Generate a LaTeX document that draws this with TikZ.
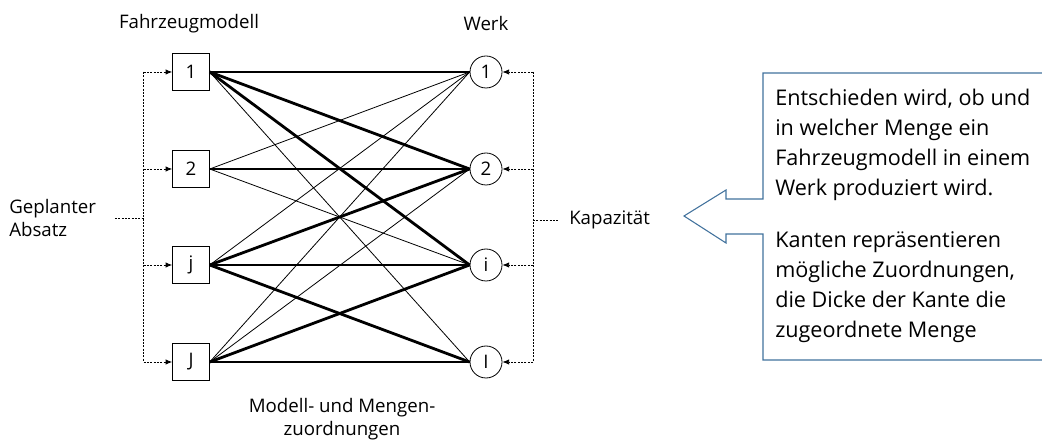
\documentclass[tikz,border=0pt]{standalone}
\usepackage{fontspec}
\setmainfont{Open Sans}
\usetikzlibrary{arrows.meta}
\definecolor{callblue}{HTML}{41719C}
\begin{document}
\begin{tikzpicture}[x=0.75pt,y=-0.75pt,
  model/.style={draw,line width=0.6pt,minimum size=27.5pt,inner sep=0pt,font=\fontsize{14}{16}\selectfont},
  plant/.style={draw,circle,line width=0.6pt,minimum size=24pt,inner sep=0pt,font=\fontsize{14}{16}\selectfont},
  lbl/.style={font=\fontsize{14}{17.5}\selectfont,inner sep=0pt},
  heavy/.style={line width=2.1pt},
  light/.style={line width=0.6pt},
  feed/.style={line width=0.6pt,dash pattern=on 1.5pt off 1pt,-{Latex[length=5pt,width=4pt]}},
  trunk/.style={line width=0.6pt,dash pattern=on 1.5pt off 1pt},
  calltext/.style={font=\fontsize{16.2}{22.5}\selectfont,align=left,anchor=north west,inner sep=0pt}]
\useasboundingbox (0,0) rectangle (1042,441);

% vehicle models (left) and plants (right)
\node[model] (m1) at (191,72) {1};
\node[model] (m2) at (191,169) {2};
\node[model] (mj) at (191,265) {j};
\node[model] (mJ) at (191,362) {J};
\node[plant] (w1) at (486,72) {1};
\node[plant] (w2) at (486,169) {2};
\node[plant] (wi) at (486,265) {i};
\node[plant] (wI) at (486,362) {I};

% headings
\node[lbl] (hm) at (189,24) {Fahrzeugmodell};
\node[lbl] (hw) at (486,24) {Werk};
\node[lbl,align=center] (hz) at (342,419) {Modell- und Mengen-\\zuordnungen};

% assignment edges
\draw[heavy] (m1.east) -- (w1.west);
\draw[heavy] (m1.east) -- (w2.west);
\draw[heavy] (m1.east) -- (wi.west);
\draw[light] (m1.east) -- (wI.west);
\draw[light] (m2.east) -- (w1.west);
\draw[heavy] (m2.east) -- (w2.west);
\draw[light] (m2.east) -- (wi.west);
\draw[light] (mj.east) -- (w1.west);
\draw[heavy] (mj.east) -- (w2.west);
\draw[heavy] (mj.east) -- (wi.west);
\draw[heavy] (mj.east) -- (wI.west);
\draw[light] (mJ.east) -- (w1.west);
\draw[light] (mJ.east) -- (w2.west);
\draw[heavy] (mJ.east) -- (wi.west);
\draw[heavy] (mJ.east) -- (wI.west);

% planned sales feeding the models
\node[lbl,align=left,anchor=west] (abs) at (9,218) {Geplanter\\Absatz};
\coordinate (lt) at (143.5,72);
\coordinate (lb) at (143.5,362);
\coordinate (lm) at (143.5,218);
\coordinate (ls) at (115,218);
\draw[trunk] (lt) -- (lb);
\draw[trunk] (ls) -- (lm);
\draw[feed] (lt) -- (m1.west);
\draw[feed] (143.5,169) -- (m2.west);
\draw[feed] (143.5,265) -- (mj.west);
\draw[feed] (lb) -- (mJ.west);

% capacities feeding the plants
\node[lbl,anchor=west] (kap) at (569,220) {Kapazität};
\coordinate (rt) at (533,72);
\coordinate (rb) at (533,362);
\coordinate (rm) at (533,220);
\coordinate (rs) at (558,220);
\draw[trunk] (rt) -- (rb);
\draw[trunk] (rm) -- (rs);
\draw[feed] (rt) -- (w1.east);
\draw[feed] (533,169) -- (w2.east);
\draw[feed] (533,265) -- (wi.east);
\draw[feed] (rb) -- (wI.east);

% explanatory callout
\draw[callblue,line width=0.8pt,line join=miter]
  (1042,73) -- (763,73) -- (763,199) -- (726,199) -- (726,190) -- (684,216)
  -- (726,243) -- (726,234) -- (763,234) -- (763,360) -- (1042,360);
\node[calltext] (t1) at (775,89) {Entschieden wird, ob und\\in welcher Menge ein\\Fahrzeugmodell in einem\\Werk produziert wird.};
\node[calltext] (t2) at (775,231) {Kanten repräsentieren\\mögliche Zuordnungen,\\die Dicke der Kante die\\zugeordnete Menge};
\end{tikzpicture}
\end{document}
